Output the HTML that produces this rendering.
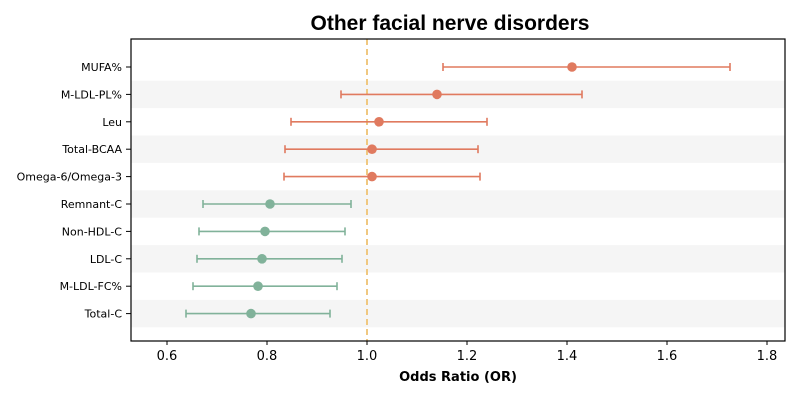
<!DOCTYPE html>
<html><head><meta charset="utf-8"><style>
body{margin:0;background:#fff;}
svg{display:block;font-family:"DejaVu Sans","Liberation Sans",sans-serif;}
</style></head><body>
<svg id="chart" width="800" height="400"></svg>
<script>
const labels=["MUFA%","M-LDL-PL%","Leu","Total-BCAA","Omega-6/Omega-3","Remnant-C","Non-HDL-C","LDL-C","M-LDL-FC%","Total-C"];
const orVals=[1.41,1.14,1.024,1.01,1.01,0.806,0.796,0.79,0.782,0.768];
const lowVals=[1.152,0.948,0.848,0.836,0.834,0.672,0.664,0.66,0.652,0.638];
const highVals=[1.726,1.43,1.24,1.222,1.226,0.968,0.956,0.95,0.94,0.926];
const groups=["up","up","up","up","up","down","down","down","down","down"];
const xTicks=[0.6,0.8,1.0,1.2,1.4,1.6,1.8];
const NS="http://www.w3.org/2000/svg";
const svg=document.getElementById('chart');
const L=131,R=785,T=39,B=341;
const x=v=>167+(v-0.6)*500;
const y=i=>67+i*27.4;
function mk(tag,attrs,parent){const e=document.createElementNS(NS,tag);for(const k in attrs)e.setAttribute(k,attrs[k]);(parent||svg).appendChild(e);return e;}
let t=mk('text',{x:450,y:30,'text-anchor':'middle','font-size':21,'font-weight':'bold',fill:'#000','font-family':'Liberation Sans, sans-serif'});t.textContent="Other facial nerve disorders";


labels.forEach((l,i)=>{if(i%2==1){const r=mk('rect',{x:L,y:y(i)-13.7,width:R-L,height:27.4,fill:'#f5f5f5'});

}});
const ref=mk('line',{x1:x(1),x2:x(1),y1:T,y2:B,stroke:'#f0c880','stroke-width':2,'stroke-dasharray':'6,4'});


labels.forEach((l,i)=>{
 const c=groups[i]=="up"?"#e07a5f":"#81b29a";
 const g=mk('g',{});
 
 
 const yy=y(i);
 mk('line',{x1:x(lowVals[i]),x2:x(highVals[i]),y1:yy,y2:yy,stroke:c,'stroke-width':1.6},g);
 mk('line',{x1:x(lowVals[i]),x2:x(lowVals[i]),y1:yy-4,y2:yy+4,stroke:c,'stroke-width':1.6},g);
 mk('line',{x1:x(highVals[i]),x2:x(highVals[i]),y1:yy-4,y2:yy+4,stroke:c,'stroke-width':1.6},g);
 mk('circle',{cx:x(orVals[i]),cy:yy,r:4.8,fill:c},g);
 const lt=mk('text',{x:L-9,y:yy+4,'text-anchor':'end','font-size':11,fill:'#000'});lt.textContent=l;
 
 
 mk('line',{x1:L-5,x2:L,y1:yy,y2:yy,stroke:'#000'});
});
const frame=mk('rect',{x:L,y:T,width:R-L,height:B-T,fill:'none',stroke:'#000','stroke-width':1.2});


xTicks.forEach(v=>{mk('line',{x1:x(v),x2:x(v),y1:B,y2:B+4,stroke:'#000'});
 const tt=mk('text',{x:x(v),y:B+19,'text-anchor':'middle','font-size':13,fill:'#000'});tt.textContent=v.toFixed(1);
 
 });
const xt=mk('text',{x:458,y:381,'text-anchor':'middle','font-size':13,'font-weight':'bold',fill:'#000'});xt.textContent="Odds Ratio (OR)";


</script>
</body></html>
